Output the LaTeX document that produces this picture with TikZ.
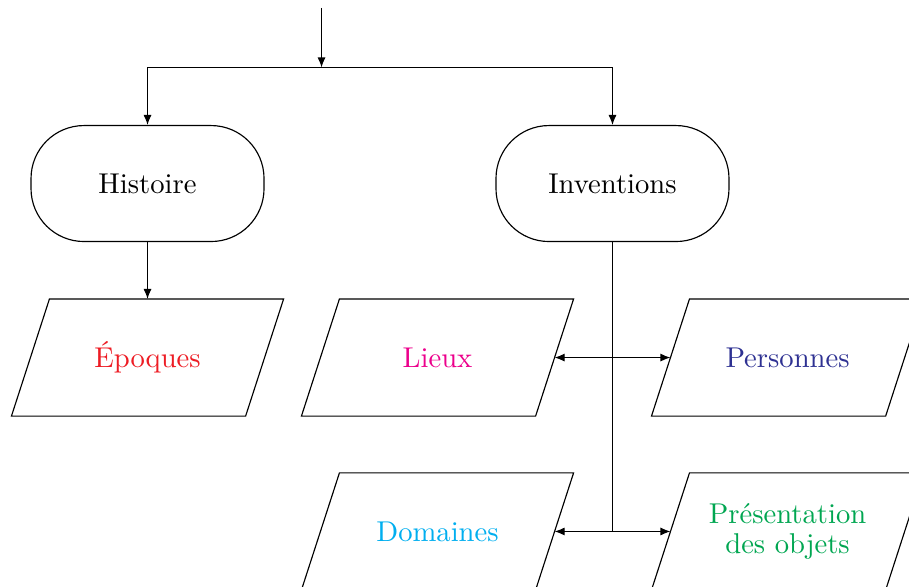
\documentclass[tikz,border=0pt]{standalone}
\usepackage{tikz}
\usetikzlibrary{arrows.meta}
\usetikzlibrary{positioning}
\definecolor{rougeep}{HTML}{ED1C24}
\definecolor{roselieu}{HTML}{EC008C}
\definecolor{bleupers}{HTML}{2E3192}
\definecolor{cyandom}{HTML}{00AEEF}
\definecolor{vertobj}{HTML}{00A651}
\begin{document}
\begin{tikzpicture}[
    >={Latex[length=3.5pt,width=2.8pt]},
    terminal/.style={draw, rectangle, rounded corners=0.65cm, minimum width=2.859cm, minimum height=1.423cm},
    donnee/.style={rectangle, minimum width=2.859cm, minimum height=1.423cm, align=center}
  ]
      \useasboundingbox (0,0) rectangle (11.153,-7.202);
      \node[terminal] (histoire) at (1.810,-2.252) {Histoire};
      \node[terminal] (inventions) at (7.515,-2.252) {Inventions};
      \node[donnee, text=rougeep] (epoques) at (1.810,-4.387) {\'Epoques};
      \node[donnee, text=roselieu] (lieux) at (5.368,-4.387) {Lieux};
      \node[donnee, text=bleupers] (personnes) at (9.663,-4.387) {Personnes};
      \node[donnee, text=cyandom] (domaines) at (5.368,-6.521) {Domaines};
      \node[donnee, text=vertobj] (objets) at (9.663,-6.521) {Pr\'esentation\\[-1.5pt]des objets};
      % parallelogrammes
      \foreach \n in {epoques,lieux,personnes,domaines,objets}
        \draw ([xshift=0.233cm]\n.north west) -- ([xshift=0.233cm]\n.north east)
          -- ([xshift=-0.233cm]\n.south east) -- ([xshift=-0.233cm]\n.south west) -- cycle;
      \coordinate (entree) at (3.945,-0.098);
      \coordinate (split) at (3.945,-0.828);
      \draw[->] (entree) -- (split);
      \draw[->] (split) -| (histoire);
      \draw[->] (split) -| (inventions);
      \draw[->] (histoire) -- (epoques);
      \draw (inventions) -- (inventions |- domaines.east);
      \draw[<->] (lieux.east) -- (personnes.west);
      \draw[<->] (domaines.east) -- (objets.west);
  \end{tikzpicture}
\end{document}
